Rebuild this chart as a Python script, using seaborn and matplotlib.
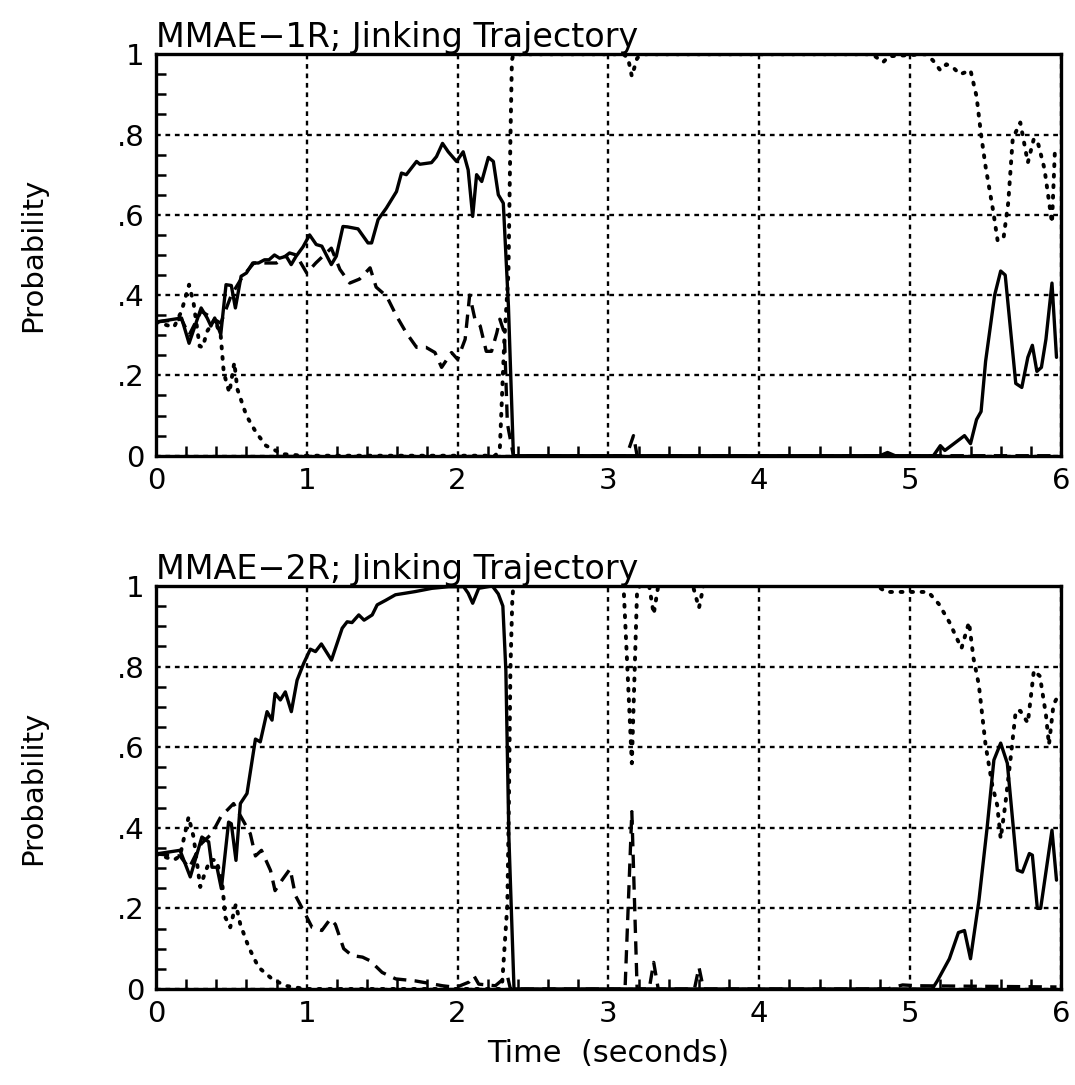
import numpy as np
import pandas as pd
import matplotlib
matplotlib.use("Agg")
import matplotlib.pyplot as plt
from matplotlib.ticker import MultipleLocator, FuncFormatter
import seaborn as sns

# (time, probability) points
top_solid = [(0, .333), (0.17, .343), (0.22, .28), (0.30, .368), (0.34, .343), (0.365, .323), (0.39, .343),
             (0.43, .302), (0.465, .426), (0.50, .424), (0.527, .368), (0.565, .447), (0.60, .455), (0.642, .48),
             (0.68, .48), (0.72, .488), (0.75, .488), (0.786, .50), (0.82, .492), (0.864, .497), (0.897, .476),
             (0.93, .497), (0.975, .52), (1.019, .55), (1.063, .526), (1.10, .522), (1.163, .476), (1.196, .497),
             (1.24, .571), (1.27, .57), (1.34, .565), (1.406, .53), (1.43, .53), (1.473, .588), (1.528, .617),
             (1.595, .658), (1.628, .704), (1.66, .70), (1.728, .733), (1.75, .726), (1.827, .73), (1.86, .745),
             (1.90, .778), (1.938, .757), (1.993, .733), (2.037, .757), (2.07, .712), (2.10, .596), (2.126, .70),
             (2.16, .683), (2.204, .743), (2.237, .733), (2.27, .65), (2.303, .629), (2.337, .373), (2.37, 0),
             (4.80, 0), (4.85, .008), (4.90, 0), (5.154, 0), (5.20, .025), (5.23, .013), (5.29, .03), (5.36, .05),
             (5.40, .03), (5.44, .09), (5.47, .11), (5.50, .235), (5.56, .40), (5.60, .46), (5.63, .45),
             (5.70, .18), (5.74, .17), (5.78, .245), (5.81, .275), (5.84, .21), (5.87, .22), (5.90, .29),
             (5.94, .43), (5.97, .245)]
top_dotted = [(0, .333), (0.12, .32), (0.17, .36), (0.22, .426), (0.25, .38), (0.29, .273), (0.31, .27),
              (0.34, .31), (0.39, .34), (0.43, .298), (0.45, .207), (0.487, .157), (0.52, .232), (0.54, .166),
              (0.60, .10), (0.664, .058), (0.73, .025), (0.84, .004), (0.975, 0), (2.25, 0), (2.28, .017),
              (2.31, .29), (2.337, .455), (2.35, .786), (2.36, .985), (2.37, 1.0), (3.10, 1.0), (3.13, .99),
              (3.155, .945), (3.19, .99), (3.22, 1.0), (4.75, 1.0), (4.82, .98), (4.86, .995), (5.10, 1.0),
              (5.15, .985), (5.20, .96), (5.24, .975), (5.29, .965), (5.33, .95), (5.40, .96), (5.44, .895),
              (5.47, .80), (5.50, .72), (5.55, .61), (5.58, .535), (5.62, .545), (5.65, .63), (5.68, .79),
              (5.73, .83), (5.78, .73), (5.82, .79), (5.85, .775), (5.89, .715), (5.94, .58), (5.96, .765)]
top_dashed = [(0, .333), (0.17, .34), (0.22, .30), (0.30, .36), (0.43, .33), (0.50, .40), (0.576, .447),
              (0.65, .48), (0.80, .48), (0.886, .505), (0.93, .50), (1.0, .455), (1.06, .48), (1.163, .517),
              (1.22, .464), (1.285, .43), (1.35, .44), (1.42, .468), (1.46, .42), (1.53, .397), (1.595, .348),
              (1.66, .306), (1.728, .27), (1.79, .27), (1.85, .257), (1.894, .22), (1.96, .257), (2.0, .24),
              (2.05, .29), (2.08, .40), (2.115, .34), (2.15, .323), (2.19, .26), (2.225, .26), (2.26, .306),
              (2.28, .34), (2.31, .306), (2.33, .08), (2.37, 0), (3.12, 0), (3.166, .05), (3.19, 0), (5.97, 0)]

bot_solid = [(0, .335), (0.16, .344), (0.228, .278), (0.305, .377), (0.35, .365), (0.372, .302), (0.405, .302),
             (0.434, .249), (0.482, .414), (0.50, .41), (0.531, .319), (0.56, .46), (0.604, .485), (0.66, .62),
             (0.692, .613), (0.737, .688), (0.77, .667), (0.79, .733), (0.825, .717), (0.858, .737),
             (0.898, .688), (0.936, .766), (0.98, .808), (1.024, .843), (1.058, .837), (1.097, .856),
             (1.164, .816), (1.235, .895), (1.268, .911), (1.30, .909), (1.345, .928), (1.38, .915),
             (1.434, .928), (1.467, .953), (1.522, .964), (1.588, .978), (1.655, .982), (1.72, .986),
             (1.83, .994), (1.94, .998), (2.04, .998), (2.07, .982), (2.10, .957), (2.14, .994), (2.23, 1.0),
             (2.27, .98), (2.30, .95), (2.32, .79), (2.34, .377), (2.374, 0), (5.146, 0), (5.18, .02),
             (5.26, .075), (5.32, .14), (5.36, .145), (5.40, .075), (5.456, .22), (5.51, .40), (5.555, .568),
             (5.60, .61), (5.644, .56), (5.71, .295), (5.744, .29), (5.79, .336), (5.81, .332), (5.843, .20),
             (5.865, .20), (5.94, .394), (5.97, .27)]
bot_dotted = [(0, .335), (0.12, .32), (0.16, .33), (0.217, .427), (0.25, .377), (0.294, .253), (0.327, .29),
              (0.36, .32), (0.40, .32), (0.438, .27), (0.46, .178), (0.493, .153), (0.53, .21), (0.56, .16),
              (0.615, .104), (0.68, .054), (0.77, .025), (0.858, .008), (0.99, 0), (2.28, 0), (2.296, .017),
              (2.33, .21), (2.34, .46), (2.35, .79), (2.363, .97), (2.37, 1.0), (3.10, 1.0), (3.155, .56),
              (3.19, .99), (3.21, 1.0), (3.27, 1.0), (3.30, .93), (3.33, 1.0), (3.56, 1.0), (3.60, .945),
              (3.63, 1.0), (4.78, 1.0), (4.84, .985), (5.12, .985), (5.19, .955), (5.26, .91), (5.34, .845),
              (5.39, .91), (5.42, .82), (5.455, .755), (5.50, .605), (5.544, .506), (5.577, .456), (5.60, .373),
              (5.63, .456), (5.666, .573), (5.70, .69), (5.73, .69), (5.78, .66), (5.82, .79), (5.86, .776),
              (5.90, .68), (5.92, .606), (5.95, .705), (5.97, .72)]
bot_dashed = [(0, .335), (0.16, .33), (0.22, .30), (0.30, .36), (0.37, .385), (0.43, .427), (0.515, .46),
              (0.59, .41), (0.626, .385), (0.66, .33), (0.70, .344), (0.76, .294), (0.79, .244), (0.836, .27),
              (0.89, .298), (0.925, .232), (0.99, .186), (1.035, .153), (1.10, .145), (1.157, .174), (1.19, .16),
              (1.245, .10), (1.30, .083), (1.37, .079), (1.42, .07), (1.50, .041), (1.59, .025), (1.72, .02),
              (1.90, .008), (1.99, .004), (2.075, .017), (2.108, .033), (2.14, .012), (2.25, .008), (2.33, .033),
              (2.35, 0), (3.11, 0), (3.155, .44), (3.19, 0), (3.27, 0), (3.30, .066), (3.33, 0), (3.57, 0),
              (3.60, .054), (3.63, 0), (4.85, 0), (4.95, .01), (5.05, .008), (5.97, .005)]

titles = ["MMAE\u22121R; Jinking Trajectory", "MMAE\u22122R; Jinking Trajectory"]
panels = [(top_solid, top_dotted, top_dashed), (bot_solid, bot_dotted, bot_dashed)]

sns.set_style("white")
plt.rcParams['font.family'] = ['DejaVu Sans']
plt.rcParams['text.color'] = 'black'
plt.rcParams['axes.labelcolor'] = 'black'
plt.rcParams['xtick.color'] = 'black'
plt.rcParams['ytick.color'] = 'black'

fig = plt.figure(figsize=(10.75, 10.85), dpi=100)
ax_top = fig.add_axes([0.145, 0.580, 0.842, 0.370])
ax_bot = fig.add_axes([0.145, 0.0885, 0.842, 0.3715])

styles = {"solid": "-", "dotted": (0, (0.5, 2.2)), "dashed": (0, (4, 2.5))}

def fmt(v, pos):
    if abs(v) < 1e-9:
        return "0"
    if abs(v - 1) < 1e-9:
        return "1"
    return f"{v:.1f}".lstrip("0")

for ax, (solid, dotted, dashed), title in zip([ax_top, ax_bot], panels, titles):
    for name, pts in zip(["solid", "dotted", "dashed"], [solid, dotted, dashed]):
        df = pd.DataFrame(pts, columns=["t", "p"])
        sns.lineplot(data=df, x="t", y="p", ax=ax, color="black", sort=False,
                     linewidth=2.8 if name == "dotted" else 2.4, linestyle=styles[name],
                     dash_capstyle="round" if name == "dotted" else "butt", zorder=3)
    ax.set_xlim(0, 6)
    ax.set_ylim(0, 1)
    ax.xaxis.set_major_locator(MultipleLocator(1))
    ax.xaxis.set_minor_locator(MultipleLocator(0.2))
    ax.yaxis.set_major_locator(MultipleLocator(0.2))
    ax.yaxis.set_minor_locator(MultipleLocator(0.05))
    ax.yaxis.set_major_formatter(FuncFormatter(fmt))
    ax.tick_params(which="both", direction="in", left=True, bottom=True, top=False, right=False,
                   width=1.8, labelsize=21, pad=8, color="black", labelcolor="black")
    ax.tick_params(which="major", length=0)
    ax.tick_params(which="minor", length=7)
    ax.grid(True, which="major", color="black", linestyle=(0, (2, 2)), linewidth=1.7)
    for s in ax.spines.values():
        s.set_linewidth(2.4)
        s.set_color("black")
    ax.set_title(title, loc="left", fontsize=24, pad=3)
    ax.set_ylabel("Probability", fontsize=21, labelpad=50)
    ax.set_xlabel("")

ax_bot.set_xlabel("Time  (seconds)", fontsize=22, labelpad=8)

fig.savefig("out.png", dpi=100)
